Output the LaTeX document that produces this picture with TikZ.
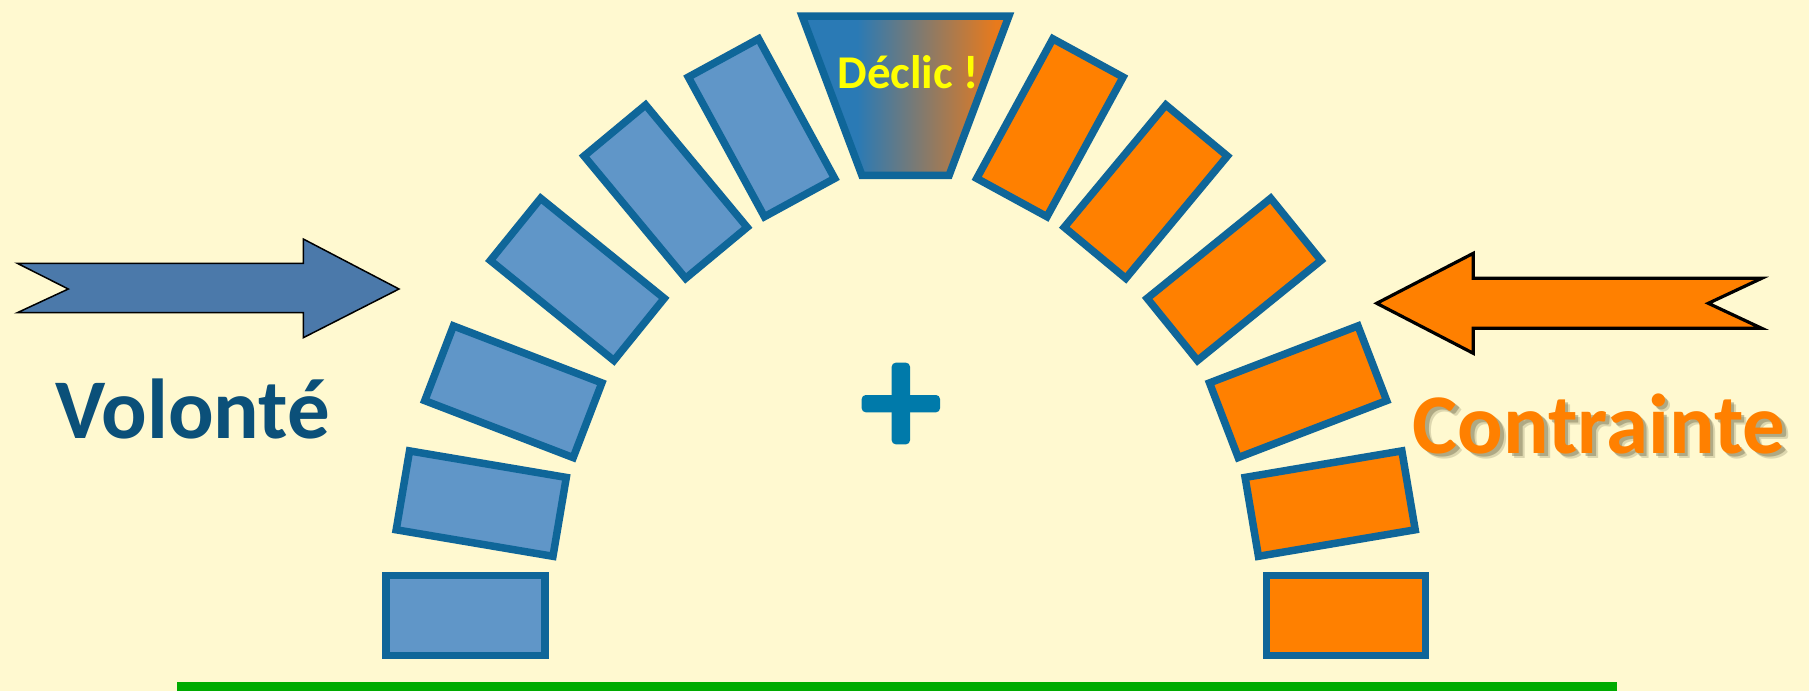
\documentclass[tikz,border=0pt]{standalone}
\usepackage{fontspec}
\setmainfont{Carlito}
\definecolor{bg}{RGB}{255,249,208}
\definecolor{blockblue}{RGB}{96,150,200}
\definecolor{blockline}{RGB}{15,102,153}
\definecolor{orange1}{RGB}{255,128,0}
\definecolor{keyblue}{RGB}{42,122,181}
\definecolor{keyorange}{RGB}{232,122,28}
\definecolor{arrowblue}{RGB}{75,121,170}
\definecolor{volc}{RGB}{11,80,121}
\definecolor{plusc}{RGB}{0,122,170}
\definecolor{green1}{RGB}{0,171,0}
\definecolor{yellow1}{RGB}{255,255,0}
\definecolor{shadowc}{RGB}{120,115,80}
\begin{document}
\begin{tikzpicture}[x=1pt,y=-1pt,
  blk/.style={shape=rectangle, draw=blockline, line width=7.5pt, minimum width=159pt, minimum height=80pt, inner sep=0pt, outer sep=0pt},
  blueblk/.style={blk, fill=blockblue},
  orangeblk/.style={blk, fill=orange1},
  bigtext/.style={anchor=base, inner sep=0pt, font=\bfseries\fontsize{85}{85}\selectfont},
  arrowshape/.style={draw=black, line join=miter}
  ]
\useasboundingbox (0,0) rectangle (1809,691);
\fill[bg] (0,0) rectangle (1809,691);
% ground line
\fill[green1] (177,682) rectangle (1617,691);
% left blocks
\node[blueblk, rotate=0]     (l1) at (465.5,615.5) {};
\node[blueblk, rotate=-9.6]  (l2) at (481.25,503.6) {};
\node[blueblk, rotate=-21]   (l3) at (513.3,391.75) {};
\node[blueblk, rotate=-39]   (l4) at (577.3,279.4) {};
\node[blueblk, rotate=-50.3] (l5) at (665.6,191.65) {};
\node[blueblk, rotate=-61.4] (l6) at (761.5,127.75) {};
% right blocks (mirrored about x=905.7)
\node[orangeblk, rotate=0]    (r1) at (1345.9,615.5) {};
\node[orangeblk, rotate=9.6]  (r2) at (1330.15,503.6) {};
\node[orangeblk, rotate=21]   (r3) at (1298.1,391.75) {};
\node[orangeblk, rotate=39]   (r4) at (1234.1,279.4) {};
\node[orangeblk, rotate=50.3] (r5) at (1145.8,191.65) {};
\node[orangeblk, rotate=61.4] (r6) at (1049.9,127.75) {};
% keystone
\begin{scope}
\clip (802.1,16) -- (1008.9,16) -- (949.1,175.3) -- (861.9,175.3) -- cycle;
\fill[keyblue] (790,0) rectangle (858,190);
\shade[left color=keyblue, right color=keyorange] (857,0) rectangle (996,190);
\fill[keyorange] (995,0) rectangle (1020,190);
\end{scope}
\draw[blockline, line width=7.5pt, line join=miter] (802.1,16) -- (1008.9,16) -- (949.1,175.3) -- (861.9,175.3) -- cycle;
\node[anchor=base, inner sep=0pt, text=yellow1, font=\bfseries\fontsize{47}{47}\selectfont] (declic) at (908.3,88.3) {Déclic !};
% plus
\fill[plusc, rounded corners=4pt] (891.7,362.7) rectangle (910,444.3);
\fill[plusc, rounded corners=4pt] (861.7,395) rectangle (940,412.3);
% arrows
\draw[arrowshape, line width=1.5pt, fill=arrowblue] (17.3,263.3) -- (303.3,263.3) -- (303.3,239) -- (399,289) -- (303.3,337.7) -- (303.3,312.7) -- (17.3,312.7) -- (68.3,289) -- cycle;
\draw[arrowshape, line width=3.2pt, fill=orange1] (1376.7,303.3) -- (1473.3,253.3) -- (1473.3,278.3) -- (1761.7,278.3) -- (1708.3,303.3) -- (1761.7,328.3) -- (1473.3,328.3) -- (1473.3,353.3) -- cycle;
% texts
\node[bigtext, text=volc] (volonte) at (192.5,438.3) {Volonté};
\node[bigtext, text=shadowc, opacity=0.25] (cshadowb) at (1604.5,458.8) {Contrainte};
\node[bigtext, text=shadowc, opacity=0.45] (cshadow) at (1602.5,456.8) {Contrainte};
\node[bigtext, text=orange1] (contrainte) at (1599,453.3) {Contrainte};
\end{tikzpicture}
\end{document}
